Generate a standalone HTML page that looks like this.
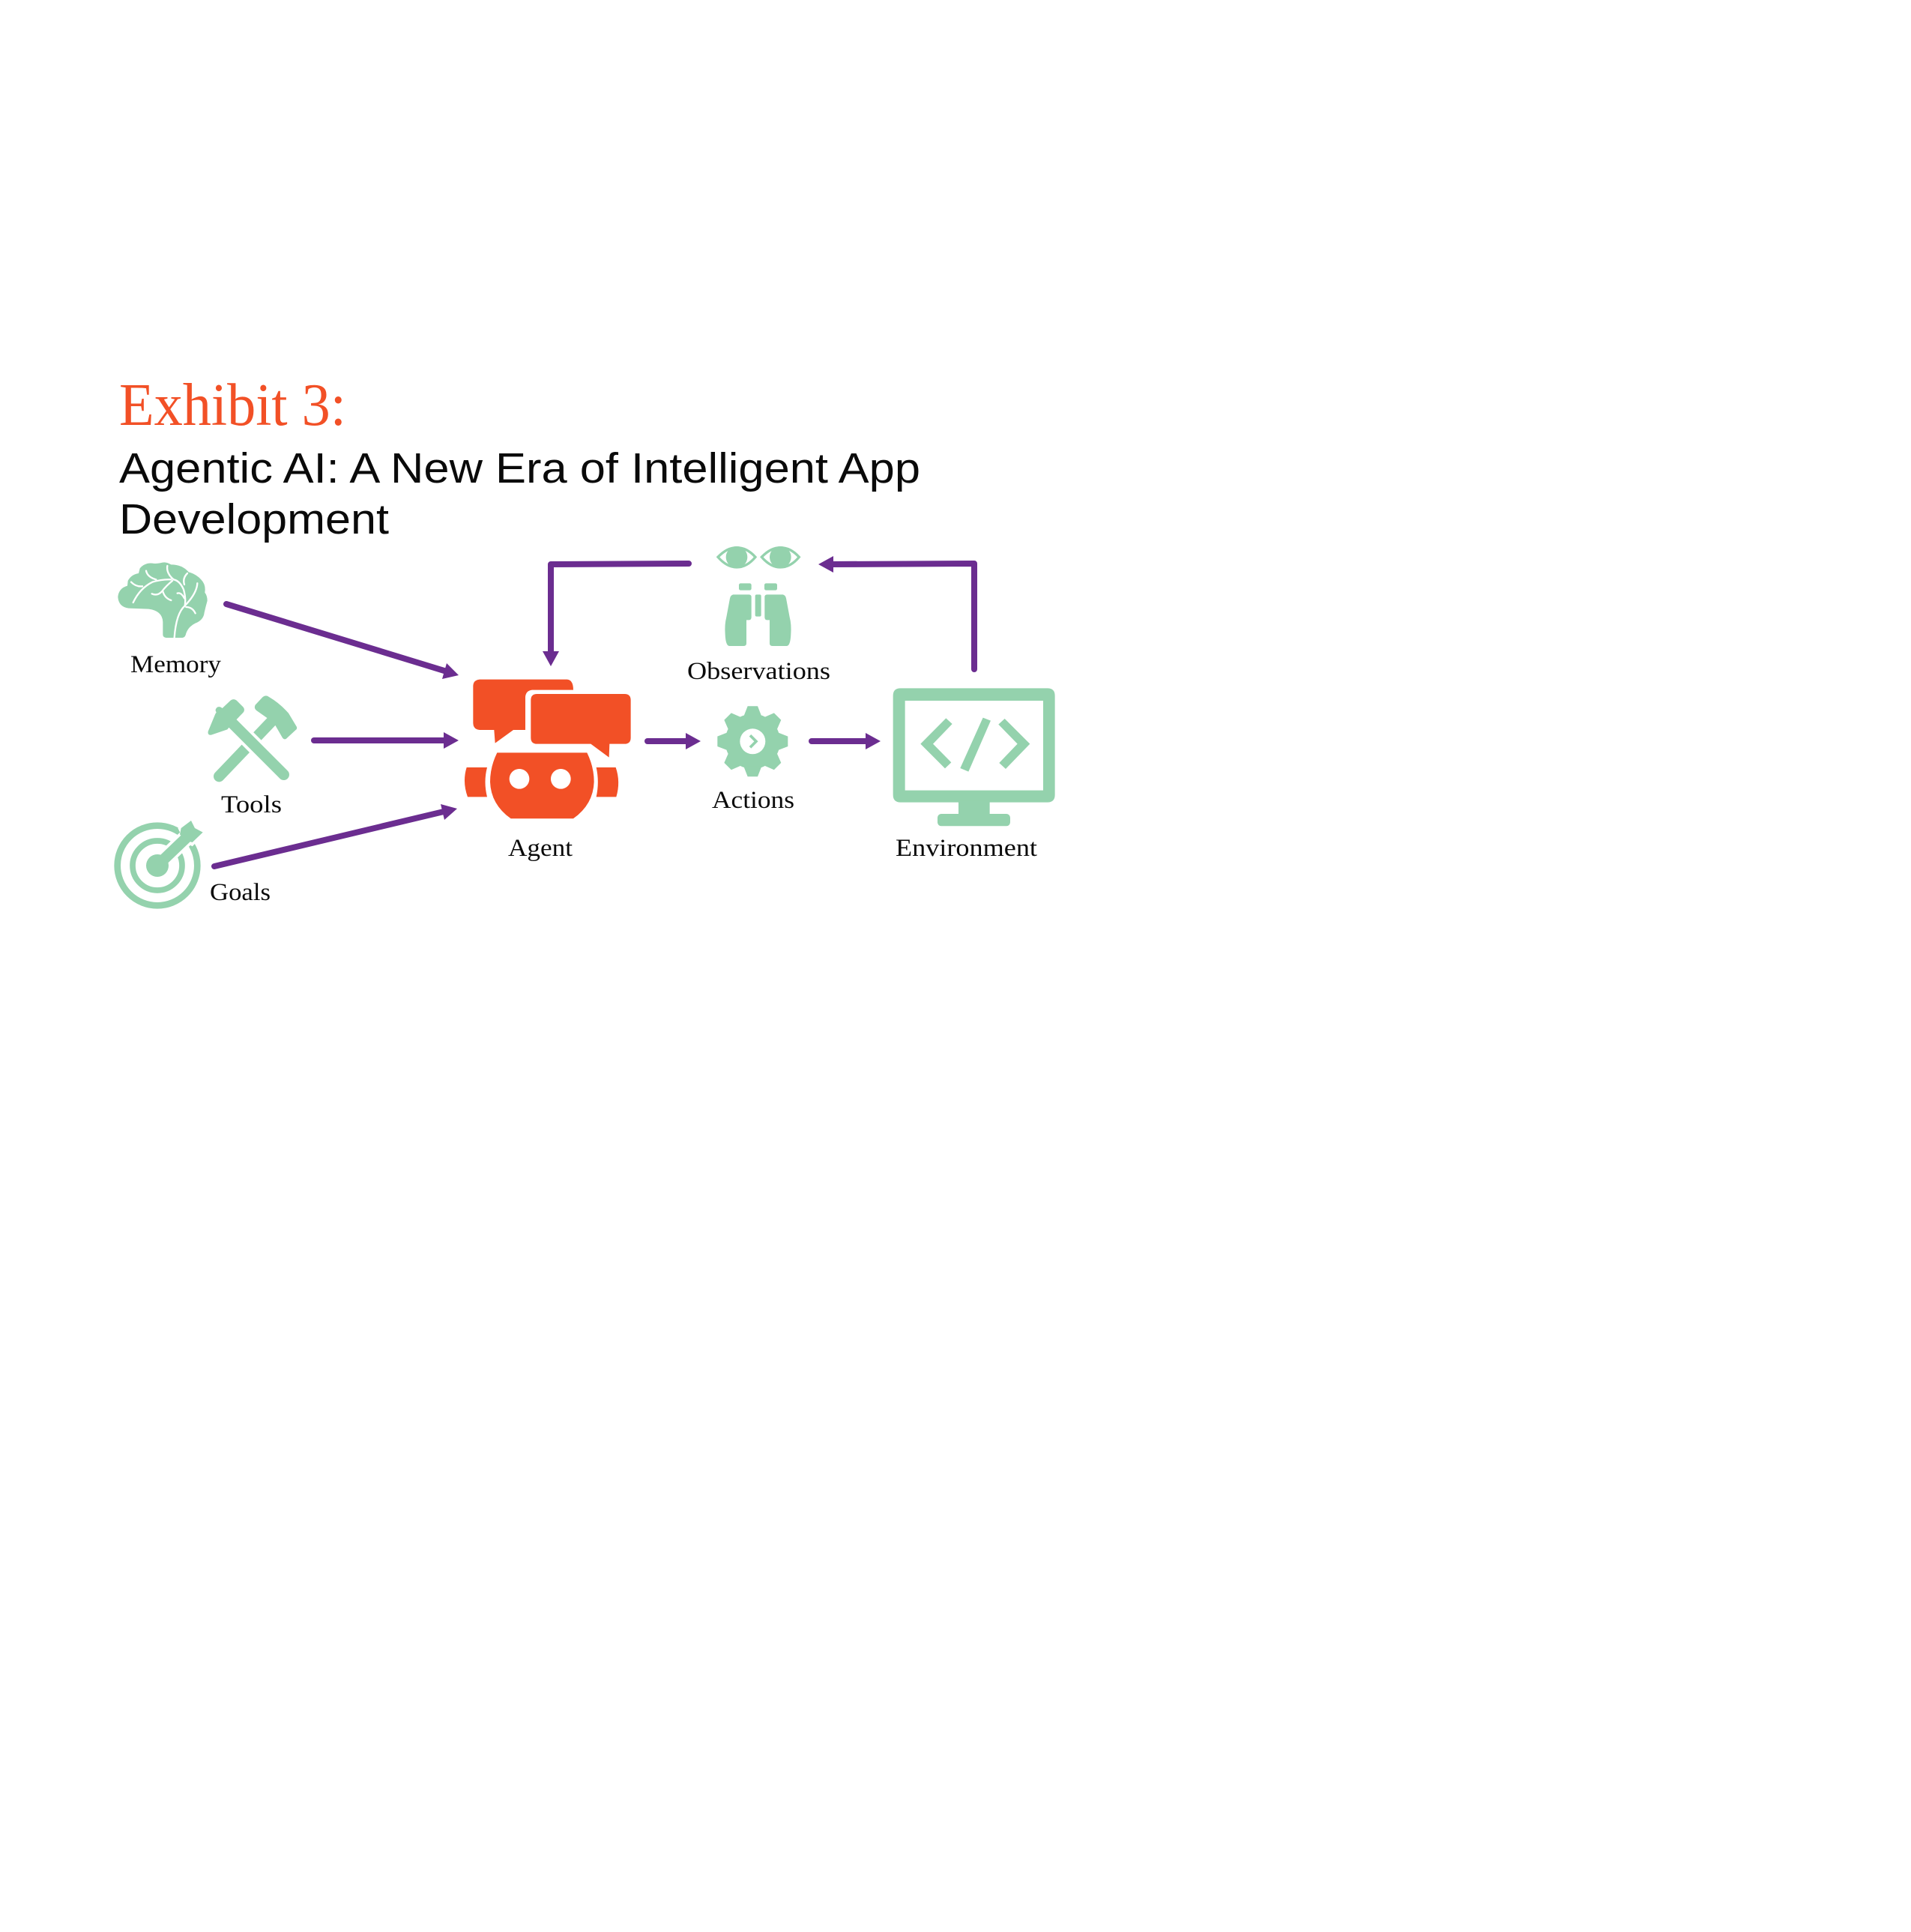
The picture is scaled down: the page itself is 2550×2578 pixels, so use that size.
<!DOCTYPE html>
<html lang="en"><head><meta charset="utf-8"><title>Exhibit 3</title>
<style>html,body{margin:0;padding:0;background:#fff}svg{display:block}
.l{font-family:"Liberation Serif",serif;font-size:33px;fill:#0a0a0a}
.s{font-family:"Liberation Sans",sans-serif;font-size:57px;fill:#0a0a0a}
.g{fill:#94D2AD}.o{fill:#F25026}</style></head><body>
<svg width="2550" height="2578" viewBox="0 0 2550 2578" xmlns="http://www.w3.org/2000/svg">
<rect width="2550" height="2578" fill="#fff"/>
<text x="159" y="567" font-family="Liberation Serif, serif" font-size="80" fill="#F25026" textLength="303" lengthAdjust="spacingAndGlyphs">Exhibit 3:</text>
<text class="s" x="159" y="644" textLength="1069" lengthAdjust="spacingAndGlyphs">Agentic AI: A New Era of Intelligent App</text>
<text class="s" x="159" y="712" textLength="360" lengthAdjust="spacingAndGlyphs">Development</text>

<!-- brain -->
<g transform="translate(140,730) scale(.3333)">
<path class="g" d="M232,350Q232,362 245,363L310,363Q322,362 325,345Q335,318 362,305Q395,292 398,262Q403,240 410,215Q410,195 400,182Q405,150 385,130Q365,108 335,100Q310,70 265,70Q245,58 230,62Q205,68 190,65Q160,62 140,85L135,105Q105,110 92,135L90,155Q55,165 52,200Q55,240 95,245L175,248Q230,255 232,300Z"/>
<g fill="none" stroke="#fff" stroke-width="7" stroke-linecap="round">
<path d="M113,222Q140,165 190,140Q230,128 265,130"/><path d="M165,95Q170,120 205,130"/><path d="M105,140Q125,160 150,157"/>
<path d="M250,75Q245,105 275,130Q300,135 315,170Q325,205 320,235Q285,265 278,363"/><path d="M330,105Q310,125 318,150"/>
<path d="M370,145Q368,185 320,235"/><path d="M290,185Q305,180 318,205"/><path d="M188,187Q210,197 228,178Q245,155 270,135"/>
<path d="M232,178Q240,205 265,213"/><path d="M325,240Q350,240 362,265"/></g></g>

<!-- tools -->
<g transform="translate(260,910) scale(.3333)">
<line x1="97" y1="378" x2="305" y2="160" stroke="#94D2AD" stroke-width="44" stroke-linecap="round"/>
<line x1="150" y1="165" x2="360" y2="375" stroke="#fff" stroke-width="68"/>
<line x1="150" y1="165" x2="356" y2="371" stroke="#94D2AD" stroke-width="44" stroke-linecap="round"/>
<path class="g" d="M272,60Q285,50 297,60Q340,85 375,125L408,180Q410,188 404,192L365,228Q356,232 350,222L320,170L295,148L248,115Q235,105 242,92Z"/>
<path class="g" d="M143,74Q155,65 167,74L194,101Q202,112 194,122L140,178L130,190L66,212Q50,214 53,198L82,128L86,122Q78,110 90,101Q100,96 110,105Z"/>
</g>

<!-- target -->
<g transform="translate(140,1080) scale(.3333)">
<circle cx="210" cy="225" r="160" fill="none" stroke="#94D2AD" stroke-width="26"/>
<circle cx="210" cy="225" r="99" fill="none" stroke="#94D2AD" stroke-width="23"/>
<path d="M215,220L345,95" stroke="#fff" stroke-width="66" fill="none"/>
<path d="M292,75L345,35L370,70L405,92L350,148L320,130Z" fill="#fff"/>
<circle class="g" cx="210" cy="225" r="45"/>
<path d="M215,220L330,110" stroke="#94D2AD" stroke-width="44" fill="none"/>
<path class="g" d="M305,75L345,45L360,75L392,92L350,132L325,125L300,100Z"/>
</g>

<!-- agent -->
<g transform="translate(600,880) scale(.3333)" class="o">
<path d="M120,80L470,80Q495,82 495,122L330,122Q305,125 303,150L303,282L255,282L182,335L178,282L120,282Q95,280 94,255L94,105Q95,82 120,80Z"/>
<path d="M350,138L700,138Q725,138 725,163L725,313Q725,338 700,338L640,338L638,392L565,338L350,338Q325,338 325,313L325,163Q325,138 350,138Z"/>
<path fill-rule="evenodd" d="M190,373L550,373Q578,430 578,490Q575,580 495,637L245,637Q165,580 162,490Q162,430 190,373ZM279,438a40,40 0 1,0 .01,0ZM445,438a40,40 0 1,0 .01,0Z"/>
<path d="M68,432L150,432Q135,490 150,550L72,550Q50,490 68,432Z"/>
<path d="M587,432L665,432Q685,490 667,550L587,550Q600,490 587,432Z"/>
</g>

<!-- observations / actions -->
<g transform="translate(900,700) scale(.3333)">
<g><path d="M174,130Q210,92 249,92Q290,92 324,130Q290,171 249,171Q210,171 174,130Z" fill="#fff" stroke="#94D2AD" stroke-width="10"/><circle class="g" cx="249" cy="130" r="43"/></g>
<g transform="translate(175,0)"><path d="M174,130Q210,92 249,92Q290,92 324,130Q290,171 249,171Q210,171 174,130Z" fill="#fff" stroke="#94D2AD" stroke-width="10"/><circle class="g" cx="249" cy="130" r="43"/></g>
<rect class="g" x="258" y="235" width="50" height="28" rx="7"/><rect class="g" x="360" y="235" width="51" height="28" rx="7"/>
<rect class="g" x="323" y="280" width="24" height="88" rx="6"/>
<path class="g" d="M235,280L298,280Q308,280 308,290L308,370Q308,382 298,382L288,382L288,475Q288,486 277,486L220,486Q205,486 203,440Q200,400 208,370L222,295Q225,282 235,280Z"/>
<path class="g" d="M434,280L371,280Q361,280 361,290L361,370Q361,382 371,382L381,382L381,475Q381,486 392,486L449,486Q464,486 466,440Q469,400 461,370L447,295Q444,282 434,280Z"/>
<g transform="translate(313,868)">
<circle class="g" r="110"/>
<g class="g"><path d="M-36,-100L-20,-141L20,-141L36,-100Z"/>
<path transform="rotate(45)" d="M-36,-100L-20,-141L20,-141L36,-100Z"/><path transform="rotate(90)" d="M-36,-100L-20,-141L20,-141L36,-100Z"/><path transform="rotate(135)" d="M-36,-100L-20,-141L20,-141L36,-100Z"/><path transform="rotate(180)" d="M-36,-100L-20,-141L20,-141L36,-100Z"/><path transform="rotate(225)" d="M-36,-100L-20,-141L20,-141L36,-100Z"/><path transform="rotate(270)" d="M-36,-100L-20,-141L20,-141L36,-100Z"/><path transform="rotate(315)" d="M-36,-100L-20,-141L20,-141L36,-100Z"/></g>
<circle r="51" fill="#fff"/>
<path d="M-10,-24L14,0L-10,24" fill="none" stroke="#94D2AD" stroke-width="11"/>
</g></g>

<!-- monitor -->
<g transform="translate(1060,880) scale(.3333)">
<path class="g" fill-rule="evenodd" d="M425,115L1013,115Q1043,115 1043,145L1043,542Q1043,572 1013,572L425,572Q395,572 395,542L395,145Q395,115 425,115ZM443,165L443,524L996,524L996,165Z"/>
<rect class="g" x="657" y="565" width="125" height="60"/><rect class="g" x="573" y="618" width="291" height="49" rx="15"/>
<polygon class="g" points="607,235 632,258 555,338 628,412 603,436 505,338"/>
<polygon class="g" points="755,233 786,245 697,449 664,435"/>
<polygon class="g" points="842,237 943,338 846,438 820,414 893,338 817,260"/>
</g>

<!-- connectors -->
<g stroke="#6B2D90" stroke-width="8" fill="none" stroke-linecap="round" stroke-linejoin="round">
<path d="M302,806L596,896"/>
<path d="M419,988L596,988"/>
<path d="M286,1156L592,1083"/>
<path d="M864,989L918,989"/>
<path d="M1083,989L1156,989"/>
<path d="M1300,893L1300,752L1108,753"/>
<path d="M919,752L735,753L735,872"/>
</g>
<g fill="#6B2D90">
<polygon points="612,901 590,906 596,885"/>
<polygon points="612,988 592,977 592,999"/>
<polygon points="610,1079 593,1094 588,1073"/>
<polygon points="935,989 915,978 915,1000"/>
<polygon points="1175,989 1155,978 1155,1000"/>
<polygon points="1092,753 1112,742 1112,764"/>
<polygon points="735,889 724,869 746,869"/>
</g>

<!-- labels -->
<text class="l" x="174" y="897" textLength="121" lengthAdjust="spacingAndGlyphs">Memory</text>
<text class="l" x="295" y="1084" textLength="81" lengthAdjust="spacingAndGlyphs">Tools</text>
<text class="l" x="280" y="1201" textLength="81" lengthAdjust="spacingAndGlyphs">Goals</text>
<text class="l" x="678" y="1142" textLength="86" lengthAdjust="spacingAndGlyphs">Agent</text>
<text class="l" x="917" y="906" textLength="191" lengthAdjust="spacingAndGlyphs">Observations</text>
<text class="l" x="950" y="1078" textLength="110" lengthAdjust="spacingAndGlyphs">Actions</text>
<text class="l" x="1195" y="1142" textLength="189" lengthAdjust="spacingAndGlyphs">Environment</text>
</svg>
</body></html>
